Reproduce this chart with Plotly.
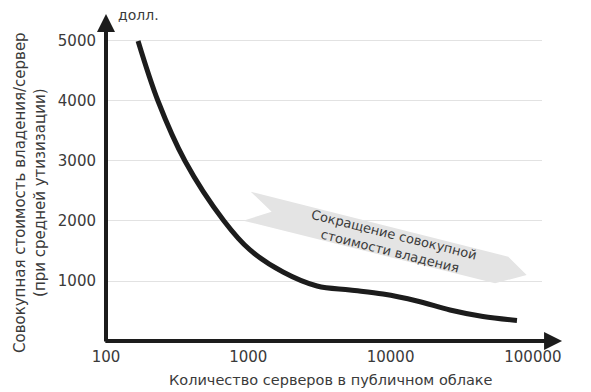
import plotly.graph_objects as go
import numpy as np

# Data
servers = [168, 232, 359, 675, 1028, 1754, 3040, 5185, 8843, 15330, 26150, 44600, 77300]
tco = [5000, 4000, 3000, 2000, 1517, 1150, 917, 850, 783, 667, 517, 408, 342]

x_tickvals = [100, 1000, 10000, 100000]
x_ticktext = ["100", "1000", "10000", "100000"]
y_tickvals = [1000, 2000, 3000, 4000, 5000]
y_ticktext = ["1000", "2000", "3000", "4000", "5000"]

# Banner (arrow) outline in data units
banner_x = [1040, 67140, 90400, 54200, 922, 1459, 1040]
banner_y = [2488, 1405, 1100, 962, 2005, 2155, 2488]
banner_text = "Сокращение совокупной<br>стоимости владения"

x_title = "Количество серверов в публичном облаке"
y_title = "Совокупная стоимость владения/сервер<br>(при средней утизизации)"
y_unit = "долл."

FONT = "DejaVu Sans"
TXT = "#3a3a3a"
AX = "#1c1c1c"

fig = go.Figure()
fig.add_trace(go.Scatter(x=banner_x, y=banner_y, mode="lines", fill="toself",
                         fillcolor="#e4e4e4", line=dict(width=0, color="#e4e4e4"),
                         hoverinfo="skip", showlegend=False))
fig.add_trace(go.Scatter(x=servers, y=tco, mode="lines",
                         line=dict(color=AX, width=5, shape="spline", smoothing=1.0),
                         showlegend=False))

fig.update_layout(
    width=583, height=384,
    margin=dict(l=98, r=49, t=7, b=51),
    plot_bgcolor="white", paper_bgcolor="white",
    font=dict(family=FONT, color=TXT, size=14),
    xaxis=dict(type="log", range=[2, 5.064], showgrid=False, zeroline=False,
               showline=False, tickvals=x_tickvals, ticktext=x_ticktext,
               ticks="outside", ticklen=2, tickcolor="rgba(0,0,0,0)",
               tickfont=dict(size=15, color=TXT, family=FONT)),
    yaxis=dict(range=[0, 5433], showgrid=True, gridcolor="#e2e2e2", gridwidth=1,
               zeroline=False, showline=False, tickvals=y_tickvals, ticktext=y_ticktext,
               ticks="outside", ticklen=6, tickcolor="rgba(0,0,0,0)",
               tickfont=dict(size=15, color=TXT, family=FONT)),
)

# Axis arrows
fig.add_annotation(xref="x domain", yref="y domain", axref="x domain", ayref="y domain",
                   x=1.046, y=0, ax=-0.005, ay=0, text="", showarrow=True,
                   arrowhead=2, arrowsize=0.9, arrowwidth=4, arrowcolor=AX)
fig.add_annotation(xref="x domain", yref="y domain", axref="x domain", ayref="y domain",
                   x=0, y=1.003, ax=0, ay=-0.006, text="", showarrow=True,
                   arrowhead=2, arrowsize=0.9, arrowwidth=4, arrowcolor=AX)

# Banner text
fig.add_annotation(x=np.log10(10230), y=1633, xref="x", yref="y", text=banner_text,
                   showarrow=False, textangle=14, font=dict(size=13, color=TXT, family=FONT),
                   align="center")

# Titles
fig.add_annotation(xref="paper", yref="paper", x=0.5, y=0, yshift=-39, xshift=7,
                   text=x_title, showarrow=False, yanchor="middle",
                   font=dict(size=14.5, color=TXT, family=FONT))
fig.add_annotation(xref="paper", yref="paper", x=0, y=0.5, xshift=-76, yshift=-15,
                   text=y_title, showarrow=False, textangle=-90, xanchor="center",
                   font=dict(size=15, color=TXT, family=FONT))
fig.add_annotation(xref="paper", yref="paper", x=0, y=1, xshift=10, yshift=0,
                   text=y_unit, showarrow=False, xanchor="left", yanchor="middle",
                   font=dict(size=14, color=TXT, family=FONT))

fig.write_html("out.html")
